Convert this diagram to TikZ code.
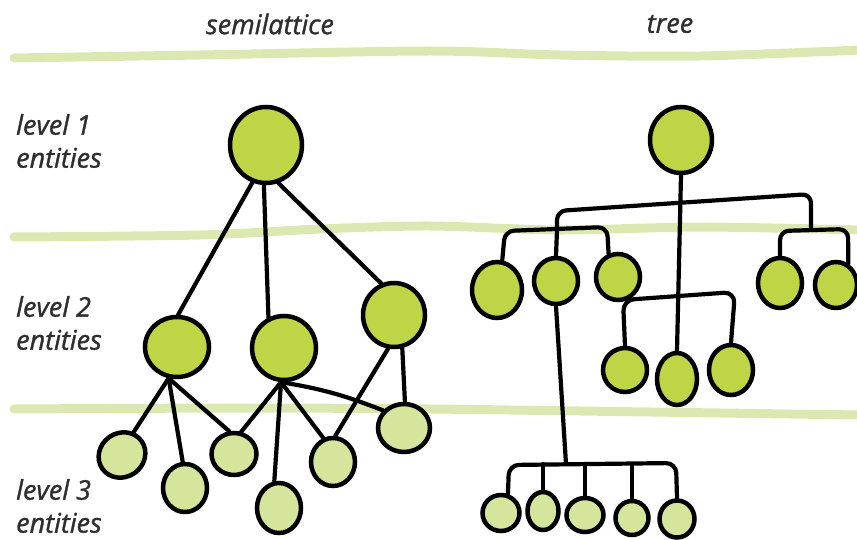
\documentclass[tikz,border=0pt]{standalone}
\usepackage{fontspec}
\newfontfamily\lblfont{Open Sans}[ItalicFeatures={FakeBold=1.2}]
\usetikzlibrary{shapes.geometric}
\definecolor{band}{HTML}{DCE8B2}
\definecolor{nodeA}{HTML}{BFD545}
\definecolor{nodeB}{HTML}{D6E59C}
\tikzset{
  wire/.style={line width=4.2pt, black, line cap=round, line join=round},
  bandline/.style={line width=9pt, band, line cap=round},
  blob/.style={ellipse, draw=black, line width=4.5pt, inner sep=0pt},
  bigblob/.style={blob, fill=nodeA},
  smallblob/.style={blob, fill=nodeB},
  lbl/.style={font=\lblfont\itshape\fontsize{27}{33}\selectfont, align=left, anchor=west, text=black!82, inner sep=0pt},
  title/.style={font=\lblfont\itshape\fontsize{27}{30}\selectfont, text=black!82}
}
\begin{document}
\begin{tikzpicture}[x=1pt, y=-1pt]
\useasboundingbox (0,0) rectangle (857,540);

% level separators
\draw[bandline] plot[smooth] coordinates {(14,58) (200,55) (430,51) (560,55) (700,56) (860,50)};
\draw[bandline] plot[smooth] coordinates {(14,237) (200,235) (320,229) (430,226) (560,230) (700,227) (860,230)};
\draw[bandline] plot[smooth] coordinates {(14,409) (250,408) (430,409) (650,412) (860,415)};

% headings and level labels
\node[title] (hsemi) at (270,24) {semilattice};
\node[title] (htree) at (670,24) {tree};
\node[lbl] (lev1) at (16,141) {level 1\\entities};
\node[lbl] (lev2) at (16,323) {level 2\\entities};
\node[lbl] (lev3) at (16,506) {level 3\\entities};

% ---------- semilattice ----------
\node[bigblob, minimum width=72pt, minimum height=76pt] (top) at (266,145) {};
\node[bigblob, minimum width=64pt, minimum height=60pt] (l2a) at (177,347) {};
\node[bigblob, minimum width=64pt, minimum height=64pt] (l2b) at (284,348) {};
\node[bigblob, minimum width=62pt, minimum height=64pt] (l2c) at (394,315) {};
\node[smallblob, minimum width=48pt, minimum height=44pt, rotate=35] (sA) at (122,455) {};
\node[smallblob, minimum width=44pt, minimum height=48pt] (sB) at (185,488) {};
\node[smallblob, minimum width=45pt, minimum height=42pt] (sC) at (234,454) {};
\node[smallblob, minimum width=44pt, minimum height=50pt] (sD) at (279,508) {};
\node[smallblob, minimum width=44pt, minimum height=48pt] (sE) at (333,462) {};
\node[smallblob, minimum width=52pt, minimum height=48pt] (sF) at (404,428) {};

\begin{scope}[wire]
\draw (top.250) -- (l2a.88);
\draw (top.267) -- (l2b.117);
\draw (top.288) -- (l2c.112);
\draw (l2a.255) -- (sA.28);
\draw (l2a.255) -- (sB.95);
\draw (l2a.255) -- (sC.102);
\draw (l2b.265) -- (sC.72);
\draw (l2b.265) -- (sD.100);
\draw (l2b.265) -- (sE.112);
\draw (l2b.265) to[bend left=6] (sF.140);
\draw (l2c.260) -- (sE.85);
\draw (l2c.284) -- (sF.88);
\end{scope}

% ---------- tree ----------
\node[bigblob, minimum width=62pt, minimum height=66pt] (root) at (681,140) {};
\node[bigblob, minimum width=50pt, minimum height=56pt] (t1) at (497,290) {};
\node[bigblob, minimum width=44pt, minimum height=46pt] (t2) at (556,281) {};
\node[bigblob, minimum width=44pt, minimum height=46pt] (t3) at (618,277) {};
\node[bigblob, minimum width=44pt, minimum height=50pt] (t4) at (780,283) {};
\node[bigblob, minimum width=42pt, minimum height=46pt] (t5) at (836,285) {};
\node[bigblob, minimum width=44pt, minimum height=44pt] (u1) at (625,370) {};
\node[bigblob, minimum width=40pt, minimum height=52pt] (u2) at (677,379) {};
\node[bigblob, minimum width=44pt, minimum height=50pt] (u3) at (731,370) {};
\node[smallblob, minimum width=37pt, minimum height=36pt] (b1) at (501,513) {};
\node[smallblob, minimum width=31pt, minimum height=38pt] (b2) at (543,511) {};
\node[smallblob, minimum width=37pt, minimum height=34pt] (b3) at (585,515) {};
\node[smallblob, minimum width=33pt, minimum height=34pt] (b4) at (632,518) {};
\node[smallblob, minimum width=35pt, minimum height=37pt] (b5) at (677,519) {};

\coordinate (jL) at (557,230);
\coordinate (jR) at (811,230);
\coordinate (hubB) at (566,464);

\begin{scope}[wire]
% trunk from the root down to the middle of the lower group
\draw (root.south) -- (u2.north);
% main crossbar
\draw[rounded corners=9] (jL) -- (557,211) -- (811,194) -- (jR);
% left cluster
\draw (jL) -- (t2.north);
\draw[rounded corners=9] (t1.80) -- (505,231) -- (607,227) -- (t3.112);
% right cluster
\draw[rounded corners=9] (t4.north) -- (780,231) -- (848,229) -- (t5.60);
% middle cluster
\draw[rounded corners=11] (u1.north) -- (623,300) -- (735,292) -- (u3.north);
% long drop to the bottom cluster
\draw (t2.south) -- (hubB);
\draw[rounded corners=10] (b1.70) -- (509,465) -- (676,463) -- (b5.north);
\draw (b2.north) -- (b2.north |- hubB);
\draw (b3.north) -- (b3.north |- hubB);
\draw (b4.north) -- (b4.north |- hubB);
\end{scope}
\end{tikzpicture}
\end{document}
